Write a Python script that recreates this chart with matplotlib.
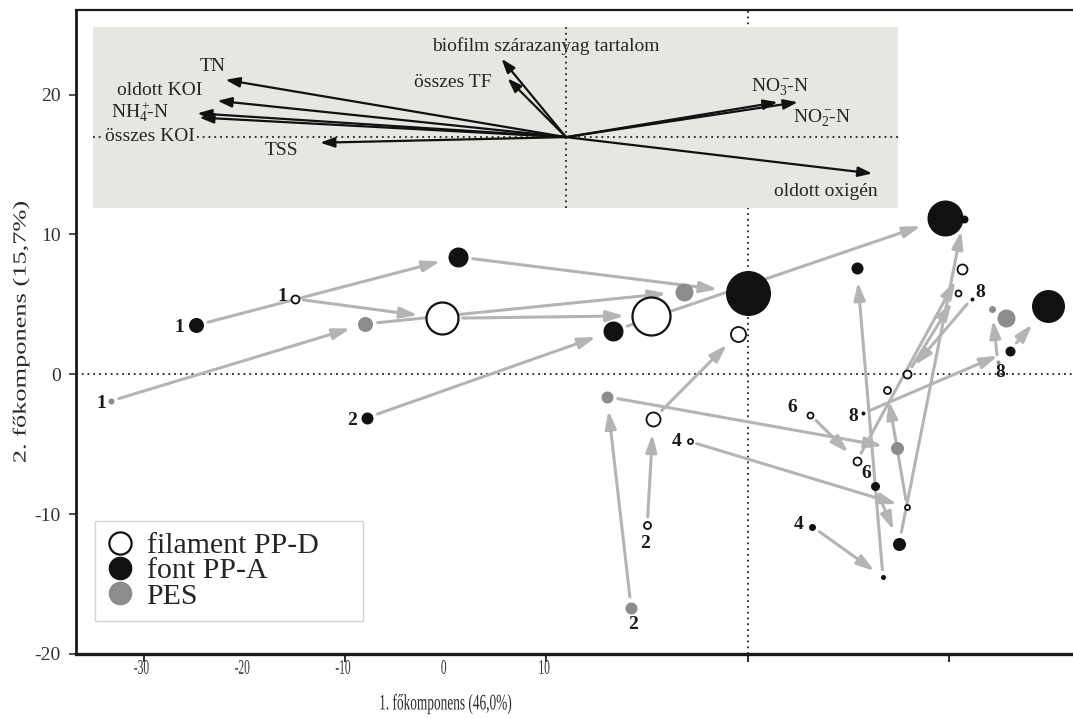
import matplotlib
matplotlib.use("Agg")
import matplotlib.pyplot as plt
import matplotlib.transforms as mtransforms
from matplotlib.lines import Line2D
from matplotlib.patches import Rectangle, PathPatch
from matplotlib.textpath import TextPath
from matplotlib.font_manager import FontProperties

plt.rcParams['font.family'] = ['Liberation Serif', 'DejaVu Serif']
plt.rcParams['mathtext.fontset'] = 'custom'
plt.rcParams['mathtext.rm'] = 'Liberation Serif'
plt.rcParams['mathtext.it'] = 'Liberation Serif:italic'
plt.rcParams['mathtext.bf'] = 'Liberation Serif:bold'

# sample scores on the first two components
pc1 = [-27.4, -22.5, -31.6, -14.4, -15.2, -19.0, 0.0, -4.8, -3.2,
       -18.9, -6.7, 9.8, -5.8, -7.0, 7.4, -5.0, -4.7, -0.5,
       -2.9, 7.9, 6.9, 3.2, 6.7, 5.4, 3.1, 5.4, 7.9,
       6.3, 7.5, 10.7, 5.7, 13.0, 14.9, 10.6, 10.4, 11.1,
       12.1, 12.8, 12.4]
pc2 = [3.5, 5.4, -1.9, 8.4, 4.0, 3.6, 5.8, 4.2, 5.9,
       -3.1, 3.1, 11.2, -16.7, -1.6, -5.3, -10.8, -3.2, 2.9,
       -4.8, -9.5, -1.1, -10.9, -14.5, 7.6, -2.9, -6.2, 0.0,
       -8.0, -12.1, 11.1, -2.8, 1.7, 4.9, 7.5, 5.8, 5.4,
       4.7, 4.0, 0.9]
# bubble radius (px)
bubble = [7.5, 4, 3, 10, 16, 7.5, 22.5, 19, 9,
          6, 10, 18, 6, 6, 6.5, 3.5, 7, 7.5,
          2.5, 2.5, 3.5, 3.5, 2.5, 6, 3, 4, 4,
          4.5, 6.5, 4, 2, 5, 16.5, 5, 3, 2,
          3.5, 9, 2]
# D = filament PP-D, A = font PP-A, P = PES
carrier = ['A', 'D', 'P', 'A', 'D', 'P', 'A', 'D', 'P',
           'A', 'A', 'A', 'P', 'P', 'P', 'D', 'D', 'D',
           'D', 'D', 'D', 'A', 'A', 'A', 'D', 'D', 'D',
           'A', 'A', 'A', 'A', 'A', 'A', 'D', 'D', 'A',
           'P', 'P', 'P']

step_from = [0, 3, 1, 4, 2, 5, 9, 10, 12, 13, 15, 16, 18, 19, 21, 22,
             24, 25, 27, 28, 30, 31, 35, 26, 38]
step_to = [3, 6, 4, 7, 5, 8, 10, 11, 13, 14, 16, 17, 19, 20, 22, 23,
           25, 33, 28, 29, 31, 32, 26, 34, 36]

day_idx = [0, 1, 2, 9, 15, 12, 18, 21, 24, 27, 30, 35, 38]
day_txt = ['1', '1', '1', '2', '2', '2', '4', '4', '6', '6', '8', '8', '8']
day_off = [(-12, -1.5), (-9, 2), (-7, -2), (-11, -2), (-1.5, -13), (1.5, -12),
           (-9.5, 0), (-10, 1.5), (-13, 5), (-6, 9), (-7, -2), (6.5, 4.3), (2, -8)]

# loadings (biplot inset)
load_names = ['TN', 'oldott KOI', r'NH$_4^+\!\!$-N', 'összes KOI', 'TSS',
              'biofilm szárazanyag tartalom', 'összes TF',
              r'NO$_3^-\!\!$-N', r'NO$_2^-\!\!$-N', 'oldott oxigén']
load_dx = [-16.9, -17.3, -18.3, -18.2, -12.2, -3.2, -2.9, 10.5, 11.5, 15.2]
load_dy = [4.1, 2.6, 1.7, 1.4, -0.4, 5.6, 4.2, 2.5, 2.5, -2.6]
load_lx = [-26.55, -29.18, -30.17, -29.68, -23.13, -10.02, -14.64, 1.59, 3.67, 3.87]
load_ly = [22.04, 20.32, 18.75, 17.03, 16.03, 23.47, 20.89, 20.54, 18.32, 13.09]
origin = (-9.03, 16.96)

xticks = [-30, -20, -10, 0, 10]
yticks = [-20, -10, 0, 10, 20]

fill = {'D': 'white', 'A': '#111111', 'P': '#8c8c8c'}
edge = {'D': '#111111', 'A': '#111111', 'P': '#8c8c8c'}
txt_col = '#252525'
box_col = '#e8e6e3'
dots = (0, (1, 2.2))

fig = plt.figure(figsize=(10.73, 7.18), dpi=100)
ax = fig.add_axes([76 / 1073, 64 / 718, (1073 - 76) / 1073, 644 / 718])
ax.set_xlim(-33.35, 16.13)
ax.set_ylim(-20, 26.05)

# origin lines
ax.axhline(0, color='#222222', lw=1.3, ls=dots, zorder=1)
ax.axvline(0, color='#222222', lw=1.3, ls=dots, zorder=1)

# loadings inset
ax.add_patch(Rectangle((-32.5, 11.88), 7.44 + 32.5, 24.83 - 11.88,
                       fc=box_col, ec='none', zorder=2))
ax.plot([origin[0], origin[0]], [11.88, 24.83], color='#222222', lw=1.3, ls=dots, zorder=3)
ax.plot([-32.5, 7.44], [origin[1], origin[1]], color='#222222', lw=1.3, ls=dots, zorder=3)
for dx, dy in zip(load_dx, load_dy):
    ax.annotate('', xy=(origin[0] + dx, origin[1] + dy), xytext=origin,
                arrowprops=dict(arrowstyle='-|>,head_length=0.85,head_width=0.3',
                                mutation_scale=10, color='#111111', lw=1.6,
                                shrinkA=0, shrinkB=0),
                zorder=4)
for name, lx, ly in zip(load_names, load_lx, load_ly):
    kw = {}
    if name == 'összes KOI':
        kw['bbox'] = dict(fc=box_col, ec='none', pad=1)
    ax.text(lx, ly, name, fontsize=14, color=txt_col, ha='center', va='center',
            zorder=5, **kw)

# trajectories
for a, b in zip(step_from, step_to):
    ax.annotate('', xy=(pc1[b], pc2[b]), xytext=(pc1[a], pc2[a]),
                arrowprops=dict(arrowstyle='-|>,head_length=1.05,head_width=0.33',
                                mutation_scale=10, color='#b4b4b4', lw=2.2,
                                shrinkA=(bubble[a] + 5) * 0.72,
                                shrinkB=(bubble[b] + 8) * 0.72),
                zorder=5)

for x, y, r, c in zip(pc1, pc2, bubble, carrier):
    lw = 1.6 if (c == 'D' and r > 10) else (1.3 if c == 'D' else 0)
    ax.scatter(x, y, s=(2 * r * 0.72) ** 2, c=fill[c], edgecolors=edge[c],
               linewidths=lw, zorder=6)

for i, t, off in zip(day_idx, day_txt, day_off):
    ax.annotate(t, (pc1[i], pc2[i]), xytext=off, textcoords='offset points',
                ha='center', va='center', fontsize=14, fontweight='bold',
                color='#1a1a1a', zorder=7)

# legend
handles = [
    Line2D([], [], marker='o', ls='none', ms=16, mfc='white', mec='#111111',
           mew=1.6, label='filament PP-D'),
    Line2D([], [], marker='o', ls='none', ms=16, mfc='#111111', mec='#111111',
           label='font PP-A'),
    Line2D([], [], marker='o', ls='none', ms=16, mfc='#8c8c8c', mec='#8c8c8c',
           label='PES'),
]
leg = ax.legend(handles=handles, loc='lower left',
                bbox_to_anchor=(0.019, 0.051, 0.269, 0.16), mode='expand',
                fontsize=21.5, frameon=True, fancybox=False, framealpha=1,
                edgecolor='#d4d4d4', borderpad=0.38, labelspacing=-0.05,
                handlelength=0.9, handletextpad=0.45, borderaxespad=0)
leg.get_frame().set_linewidth(1.0)
leg.set_zorder(10)
for t in leg.get_texts():
    t.set_color(txt_col)

# frame and ticks
ax.spines['right'].set_visible(False)
ax.spines['left'].set_linewidth(2.0)
ax.spines['bottom'].set_linewidth(2.4)
ax.spines['top'].set_linewidth(1.6)
for s in ax.spines.values():
    s.set_color('#1a1a1a')
ax.set_xticks(xticks)
ax.set_xticklabels([])
ax.set_yticks(yticks)
ax.set_yticklabels([str(v) for v in yticks], fontsize=14, color='#333333')
ax.tick_params(axis='x', direction='out', length=6, width=1.5, color='#333333')
ax.tick_params(axis='y', direction='out', length=5, width=1.2, color='#333333', pad=6)


def squeezed_text(s, X, Y, size, sx, rotation=0, color='#333333'):
    tp = TextPath((0, 0), s, prop=FontProperties(family='Liberation Serif', size=size))
    bb = tp.get_extents()
    k = fig.dpi / 72.0
    tr = (mtransforms.Affine2D()
          .translate(-(bb.x0 + bb.x1) / 2, -(bb.y0 + bb.y1) / 2)
          .scale(k).rotate_deg(rotation).scale(sx, 1).translate(X, Y))
    fig.add_artist(PathPatch(tp, transform=tr, fc=color, ec='none', lw=0))


# x-axis text is set in a narrow face, offset from the tick marks
x_bottom = ax.transData.transform((0, -20))[1]
xc = -30.2
for t in xticks:
    lx = xc + 0.5 * (t - xc)
    X = ax.transData.transform((lx, 0))[0]
    squeezed_text(str(t), X, x_bottom - 13, 15, 0.55)
squeezed_text('1. főkomponens (46,0%)', ax.transData.transform((-15.0, 0))[0],
              x_bottom - 50, 16, 0.6, color='#2b2b2b')

y_mid = ax.transAxes.transform((0, 0.5))[1]
x_left = ax.transAxes.transform((0, 0))[0]
squeezed_text('2. főkomponens (15,7%)', x_left - 55, y_mid, 19, 0.7,
              rotation=90, color='#2b2b2b')

fig.savefig('out.png', dpi=100)
